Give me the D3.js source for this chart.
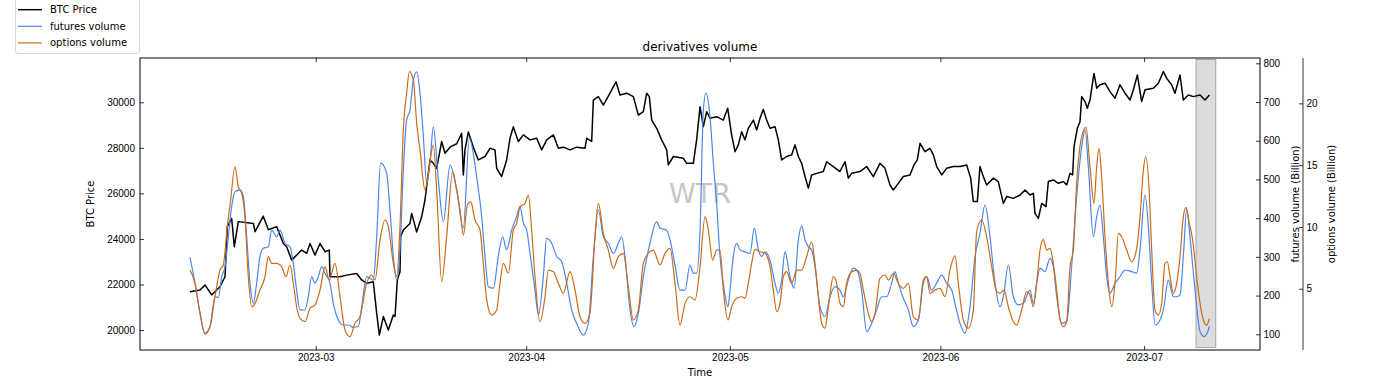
<!DOCTYPE html>
<html>
<head>
<meta charset="utf-8">
<script src="https://cdn.jsdelivr.net/npm/d3@7"></script>
<style>
  body { margin: 0; background: #fff; }
  svg { font-family: "DejaVu Sans", sans-serif; }
  .tick text { font-size: 10px; fill: #000; }
  .tick line, .domain { stroke: #000; stroke-width: 0.8; }
</style>
</head>
<body>
<script>
// days are counted from 2023-02-01 (UTC)
var btcDay = [9.48, 10.96, 11.69, 12.67, 13.9, 14.64, 14.98, 15.62, 16.01, 16.6, 18.81, 19.06, 20.28, 21.02, 22.25,
  23.23, 23.72, 24.46, 25.93, 26.67, 27.16, 27.89, 28.63, 29.37, 30.0, 30.1, 31.58, 32.56, 34.03, 34.77, 35.5,
  36.48, 36.98, 37.37, 37.96, 38.69, 39.43, 39.68, 40.02, 40.41, 40.51, 40.9, 41.88, 42.13, 42.87, 43.6, 44.09,
  44.83, 45.32, 45.81, 46.55, 47.04, 47.78, 48.76, 49.49, 49.74, 49.98, 50.48, 51.21, 51.95, 52.93, 53.67, 54.4,
  54.65, 55.38, 56.12, 56.61, 57.1, 57.84, 58.58, 59.56, 60.54, 61.28, 62.01, 63.0, 63.73, 64.47, 65.45, 66.43,
  67.66, 67.9, 68.64, 68.89, 69.62, 70.36, 71.34, 72.22, 72.81, 73.79, 74.78, 75.51, 76.25, 76.74, 77.13, 77.48,
  78.21, 78.95, 79.69, 79.93, 80.67, 82.14, 82.63, 83.61, 84.1, 84.6, 85.09, 85.58, 86.07, 87.05, 88.03, 88.67,
  89.26, 89.75, 90.24, 90.73, 91.22, 91.71, 92.45, 92.94, 93.43, 93.92, 94.41, 94.9, 95.64, 96.13, 96.62, 97.36,
  98.09, 98.59, 99.08, 99.57, 100.06, 100.55, 101.04, 101.78, 102.76, 103.25, 104.23, 105.21, 105.95, 106.44,
  106.93, 108.16, 109.14, 110.12, 111.1, 111.84, 112.58, 113.07, 113.8, 114.54, 115.52, 116.11, 116.6, 117.0,
  117.73, 118.47, 118.96, 119.45, 120.19, 120.92, 121.9, 122.89, 123.87, 124.46, 124.85, 125.44, 125.83, 126.32,
  126.81, 127.8, 128.53, 129.27, 129.76, 130.74, 131.73, 132.46, 133.2, 133.69, 133.93, 134.43, 134.92, 135.55,
  135.9, 136.63, 137.37, 138.11, 138.6, 139.09, 139.48, 139.68, 140.17, 140.56, 140.81, 141.3, 141.64, 142.03,
  142.62, 143.02, 143.51, 144.24, 144.98, 145.72, 146.45, 147.19, 147.93, 148.42, 149.01, 149.64, 150.14, 151.36,
  152.1, 152.84, 153.33, 154.06, 154.55, 155.29, 155.78, 156.52, 157.25, 158.24, 158.97, 159.61];
var btcPrice = [21680, 21760, 21980, 21540, 21900, 22340, 24540, 24900, 23660, 24760, 24680, 24320, 25000, 24400, 24540,
  23800, 23660, 23070, 23510, 23370, 23800, 23290, 23800, 23440, 23510, 22340, 22340, 22410, 22480, 22200, 22050,
  22120, 20730, 19780, 20590, 20000, 20660, 20590, 22200, 22560, 24100, 24390, 24680, 25120, 24300, 24970, 25710,
  27470, 27320, 27100, 28280, 27760, 28030, 28180, 28640, 26810, 27910, 28700, 28030, 27470, 27620, 27980, 27910,
  27100, 26740, 27470, 28420, 28930, 28280, 28570, 28350, 28420, 27910, 28350, 28570, 27980, 28030, 27910, 28030,
  27980, 28420, 28280, 30100, 30250, 29880, 30400, 30900, 30320, 30400, 30250, 29440, 29590, 30400, 30250, 29220,
  28860, 28350, 27910, 27250, 27620, 27540, 27320, 27320, 28350, 29810, 28930, 29590, 29300, 29370, 29220, 29740,
  28560, 27830, 28130, 28710, 28350, 28860, 29220, 28780, 29300, 29690, 29220, 28860, 28930, 28350, 27470, 27620,
  27690, 28130, 27620, 27320, 26740, 26230, 26810, 26880, 26960, 27390, 27180, 26960, 27390, 26670,
  26880, 26960, 27180, 26740, 27320, 27100, 26370, 26150, 26440, 26740, 26810, 27250, 27470, 28200,
  27830, 27980, 27690, 27180, 26810, 27100, 27180, 27180, 27250, 26670, 25640, 25640, 27180, 26740,
  26370, 26670, 26520, 25560, 25860, 25780, 25930, 26150, 25930, 26000, 25120, 24900, 25560, 25420,
  26520, 26590, 26440, 26520, 26370, 26880, 26810, 28060, 28860, 29150, 30250, 30030, 29740, 30100,
  31270, 30620, 30770, 30840, 30470, 30180, 30770, 30400, 30100, 30550, 31200, 30030, 30550, 30620,
  30840, 31350, 31050, 30770, 30400, 31200, 30100, 30320, 30250, 30320, 30100, 30320];

var futDay = [9.48, 10.22, 10.96, 11.69, 12.43, 13.17, 13.66, 14.15, 14.64, 15.13, 15.62, 16.11, 16.85, 17.34, 17.83,
  18.32, 18.81, 19.3, 19.79, 20.28, 21.02, 21.51, 22.25, 22.74, 23.48, 24.21, 24.7, 25.19, 25.68, 26.42, 26.91,
  27.4, 27.89, 28.38, 28.87, 29.37, 30.1, 30.59, 31.33, 32.07, 32.8, 33.54, 34.28, 34.77, 35.5, 35.99, 36.48,
  36.98, 37.56, 38.45, 38.94, 39.43, 39.92, 40.41, 40.9, 41.39, 41.88, 42.38, 42.87, 43.36, 43.85, 44.34, 44.83,
  45.32, 46.06, 46.79, 47.78, 48.76, 49.74, 50.62, 51.7, 52.44, 52.93, 53.42, 54.16, 54.89, 55.53, 56.12, 56.86,
  57.59, 58.08, 58.58, 59.07, 59.56, 60.29, 60.79, 61.52, 62.01, 62.75, 63.49, 64.22, 64.96, 65.69, 66.43, 67.41,
  68.15, 68.89, 69.62, 70.36, 71.09, 71.83, 72.57, 73.06, 73.55, 74.29, 74.87, 75.51, 76.25, 77.23, 78.21, 78.7,
  79.69, 80.18, 80.91, 81.65, 82.39, 83.12, 83.61, 84.1, 84.6, 85.09, 85.48, 86.07, 86.56, 87.05, 87.54, 88.03,
  88.72, 89.01, 89.5, 89.99, 90.49, 91.22, 91.96, 92.6, 93.19, 93.68, 94.17, 94.9, 95.64, 96.13, 96.62, 97.11,
  97.85, 98.44, 99.08, 99.57, 100.06, 100.55, 101.04, 101.53, 102.27, 103.0, 103.74, 104.48, 105.21, 105.7,
  106.44, 107.18, 107.91, 108.4, 109.14, 109.88, 110.61, 111.35, 112.09, 112.82, 113.31, 113.8, 114.54, 115.28,
  116.01, 116.75, 117.49, 117.98, 118.71, 119.45, 120.19, 120.92, 121.66, 122.15, 122.89, 123.62, 124.36, 125.1,
  125.83, 126.57, 127.3, 128.04, 128.78, 129.27, 130.01, 130.74, 131.48, 132.22, 133.2, 133.69, 134.18, 134.67,
  135.41, 136.14, 136.63, 137.13, 137.86, 138.6, 139.33, 140.07, 140.81, 141.3, 141.79, 142.53, 143.02, 143.51,
  144.0, 144.49, 144.98, 145.72, 146.45, 147.19, 148.17, 148.91, 149.4, 150.14, 150.63, 151.12, 151.61, 152.34,
  152.84, 153.57, 154.31, 154.8, 155.29, 155.78, 156.27, 156.76, 157.5, 158.24, 158.82, 159.46, 159.61];
var futVol = [299, 232, 154, 103, 120, 197, 195, 249, 275, 352, 430, 468, 473, 456, 352,
  232, 180, 232, 301, 322, 326, 369, 352, 369, 335, 326, 283, 214, 163, 163, 197,
  249, 232, 249, 275, 257, 232, 180, 137, 124, 124, 118, 120, 171, 249, 245, 240,
  352, 543, 516, 421, 301, 240, 317, 524, 654, 679, 757, 778, 723, 611, 490, 545,
  636, 499, 391, 537, 473, 374, 606, 507, 404, 301, 223, 219, 301, 352, 318, 369,
  404, 430, 387, 369, 309, 214, 150, 249, 348, 335, 301, 288, 232, 163, 128, 98,
  128, 301, 421, 352, 335, 309, 335, 352, 301, 163, 120, 154, 249, 335, 391, 374,
  369, 344, 279, 214, 214, 279, 258, 258, 369, 679, 723, 662, 542, 438, 301, 230,
  171, 214, 301, 335, 318, 313, 309, 374, 318, 301, 313, 292, 232, 206, 240, 313,
  249, 219, 344, 380, 344, 326, 318, 275, 171, 146, 197, 223, 214, 197,
  240, 271, 258, 214, 107, 128, 163, 197, 197, 232, 262, 232, 193, 163,
  120, 137, 232, 249, 214, 232, 253, 232, 214, 180, 128, 103, 171, 301,
  361, 434, 352, 232, 171, 197, 279, 197, 176, 180, 214, 180, 232, 271,
  262, 296, 275, 197, 128, 133, 275, 456, 585, 628, 533, 352, 404, 434,
  352, 249, 206, 232, 249, 266, 262, 258, 318, 460, 378, 232, 124, 137,
  163, 240, 197, 197, 202, 301, 423, 352, 214, 107, 94, 111, 121];

var optDay = [9.48, 10.22, 10.96, 11.69, 12.43, 13.17, 13.9, 14.39, 14.98, 15.47, 16.11, 16.6, 17.09, 17.58, 18.07,
  18.57, 19.06, 19.79, 20.53, 21.02, 21.51, 22.25, 22.98, 23.62, 24.21, 24.7, 25.19, 25.68, 26.42, 27.16, 27.89,
  28.63, 29.37, 30.0, 30.84, 31.58, 32.31, 33.05, 33.78, 34.52, 35.5, 36.24, 36.73, 37.47, 38.2, 38.69, 39.43,
  39.92, 40.41, 40.9, 41.39, 41.79, 42.38, 42.87, 43.36, 44.09, 44.58, 45.32, 45.81, 46.55, 47.28, 48.17, 48.76,
  49.25, 49.74, 50.33, 50.82, 51.46, 52.19, 52.68, 53.18, 53.91, 54.65, 55.14, 55.63, 56.37, 57.1, 57.59, 58.08,
  58.82, 59.31, 59.8, 60.29, 61.03, 61.77, 62.26, 63.0, 63.73, 64.47, 65.45, 66.19, 66.92, 67.66, 68.39, 69.13,
  69.62, 70.36, 71.09, 71.83, 72.57, 73.3, 74.04, 74.78, 75.51, 76.25, 76.98, 77.72, 78.7, 79.44, 80.18, 80.91,
  81.65, 82.39, 83.12, 83.86, 84.6, 85.33, 85.82, 86.46, 87.05, 87.54, 88.03, 88.72, 89.26, 89.99, 90.73, 91.22,
  91.71, 92.2, 92.69, 93.43, 94.17, 94.9, 95.39, 95.89, 96.38, 96.87, 97.36, 98.09, 98.83, 99.57, 100.3, 101.04,
  101.53, 102.02, 102.51, 103.0, 103.5, 104.23, 104.72, 105.21, 105.7, 106.19, 106.93, 107.67, 108.16, 108.65,
  109.39, 109.88, 110.37, 111.1, 111.84, 112.33, 113.07, 113.8, 114.54, 115.28, 116.01, 116.75, 117.49, 117.98,
  118.47, 119.2, 119.94, 120.68, 121.41, 122.15, 122.64, 123.38, 124.11, 124.85, 125.34, 126.08, 126.81, 127.55,
  128.29, 128.78, 129.37, 130.01, 130.74, 131.23, 131.97, 132.71, 133.2, 133.69, 134.18, 134.67, 135.16, 135.65,
  136.14, 136.63, 137.13, 137.62, 138.11, 138.6, 139.09, 139.58, 140.07, 140.81, 141.45, 142.03, 142.62, 143.02,
  143.36, 143.75, 144.24, 144.74, 145.23, 145.72, 146.21, 146.7, 147.44, 148.17, 148.91, 149.4, 149.89, 150.23,
  150.72, 151.12, 151.61, 152.1, 152.59, 153.08, 153.42, 153.82, 154.31, 154.8, 155.29, 155.78, 156.17, 156.66,
  157.15, 157.74, 158.24, 158.73, 159.22, 159.61];
var optVol = [6.51, 5.44, 3.01, 1.31, 1.93, 4.35, 6.51, 6.92, 10.02, 12.18, 14.87, 13.25, 12.72, 10.83, 5.97,
  3.54, 3.81, 4.89, 5.97, 7.59, 7.05, 7.05, 6.78, 5.97, 6.92, 5.44, 3.54, 2.6, 2.33, 3.41, 3.68,
  4.89, 6.78, 5.7, 7.05, 4.35, 1.66, 1.12, 2.2, 2.74, 5.44, 6.11, 5.7, 8.94, 10.56, 10.02, 7.05,
  5.97, 10.02, 17.84, 20.81, 22.56, 21.88, 18.38, 16.22, 12.99, 14.33, 16.63, 12.99, 5.57, 9.21, 14.47, 12.99,
  11.37, 9.34, 11.77, 12.04, 10.56, 9.75, 7.05, 4.09, 2.87, 3.28, 5.44, 7.05, 6.25, 9.75, 10.29, 11.63,
  11.91, 12.58, 9.75, 5.97, 2.33, 4.35, 6.51, 6.38, 5.44, 4.63, 6.38, 4.89, 2.73, 2.2, 3.01, 9.21,
  11.91, 9.48, 8.13, 6.65, 7.59, 7.86, 5.16, 2.47, 3.28, 7.05, 7.86, 8.13, 6.92, 7.86, 8.27, 5.44,
  2.06, 3.82, 4.35, 4.09, 6.78, 10.83, 9.75, 7.32, 8.13, 8.13, 4.89, 2.47, 3.54, 4.22, 4.35, 4.22,
  5.44, 7.05, 8.19, 7.99, 7.86, 6.78, 4.89, 3.14, 3.82, 5.97, 6.38, 5.44, 6.51, 6.51, 7.59, 8.8,
  7.05, 4.35, 2.2, 1.8, 3.54, 5.97, 5.44, 3.82, 3.54, 5.44, 6.38, 6.51, 6.25, 4.89,
  3.01, 2.33, 3.01, 5.84, 6.11, 5.7, 6.25, 5.44, 5.03, 5.44, 2.74, 2.47, 5.7, 5.97,
  4.63, 4.89, 5.03, 4.35, 6.51, 7.65, 5.44, 2.47, 1.8, 3.28, 9.61, 10.56, 9.21, 6.78,
  4.76, 4.63, 4.89, 3.54, 2.33, 2.06, 3.28, 4.76, 4.49, 3.54, 5.44, 8.13, 9.0, 8.13,
  8.27, 7.05, 4.89, 2.47, 1.93, 2.33, 6.78, 8.13, 13.53, 17.3, 18.06, 14.87, 11.91, 14.87,
  16.36, 14.06, 9.21, 5.44, 3.54, 5.44, 9.48, 9.21, 8.13, 7.18, 8.27, 10.83, 14.6, 15.68,
  13.25, 8.13, 3.28, 2.87, 3.82, 7.05, 7.18, 5.97, 4.63, 5.44, 7.59, 10.83, 11.59, 10.29,
  8.94, 5.97, 3.82, 2.47, 2.06, 2.57];

var btcTicks = [20000, 22000, 24000, 26000, 28000, 30000];
var futTicks = [100, 200, 300, 400, 500, 600, 700, 800];
var optTicks = [5, 10, 15, 20];
var spanDays = [157.65, 160.55];

var base = Date.UTC(2023, 1, 1);
function toDate(d) { return new Date(base + d * 864e5); }

var W = 1400, H = 389;
var plotL = 140, plotR = 1260, plotT = 58, plotB = 350;

var svg = d3.select("body").append("svg")
	.attr("width", W)
	.attr("height", H);

var x = d3.scaleUtc().domain([toDate(2.12), toDate(167.07)]).range([plotL, plotR]);
var yBtc = d3.scaleLinear().domain([19122, 31946]).range([plotB, plotT]);
var yFut = d3.scaleLinear().domain([59.4, 813.7]).range([plotB, plotT]);
var yOpt = d3.scaleLinear().domain([0.04, 23.67]).range([plotB, plotT]);

// shaded window at the end
svg.append("rect")
	.attr("x", x(toDate(spanDays[0])))
	.attr("y", plotT + 1.5)
	.attr("width", x(toDate(spanDays[1])) - x(toDate(spanDays[0])))
	.attr("height", plotB - plotT - 4)
	.attr("fill", "#dcdcdc")
	.attr("stroke", "#a8a8a8")
	.attr("stroke-width", 1);

// watermark
svg.append("text")
	.attr("x", 700)
	.attr("y", 202.5)
	.attr("text-anchor", "middle")
	.style("font-size", "27px")
	.style("fill", "#c6c6c6")
	.text("WTR");

var btcLine = d3.line()
	.x(function(d, i) { return x(toDate(btcDay[i])); })
	.y(function(d) { return yBtc(d); });

svg.append("path")
	.attr("d", btcLine(btcPrice))
	.attr("fill", "none")
	.attr("stroke", "#000")
	.attr("stroke-width", 1.5)
	.attr("stroke-linejoin", "round");

var futLine = d3.line()
	.curve(d3.curveMonotoneX)
	.x(function(d, i) { return x(toDate(futDay[i])); })
	.y(function(d) { return yFut(d); });

svg.append("path")
	.attr("d", futLine(futVol))
	.attr("fill", "none")
	.attr("stroke", "#4a86ec")
	.attr("stroke-width", 1.2);

var optLine = d3.line()
	.curve(d3.curveMonotoneX)
	.x(function(d, i) { return x(toDate(optDay[i])); })
	.y(function(d) { return yOpt(d); });

svg.append("path")
	.attr("d", optLine(optVol))
	.attr("fill", "none")
	.attr("stroke", "#cc6a18")
	.attr("stroke-width", 1.2);

// frame
svg.append("rect")
	.attr("x", plotL).attr("y", plotT)
	.attr("width", plotR - plotL).attr("height", plotB - plotT)
	.attr("fill", "none")
	.attr("stroke", "#000")
	.attr("stroke-width", 1);

// axes, ticks pointing inward
var fmt = d3.format("d");

svg.append("g")
	.attr("transform", "translate(" + plotL + ",0)")
	.call(d3.axisLeft(yBtc).tickValues(btcTicks).tickFormat(fmt).tickSize(-4).tickPadding(5))
	.call(function(g) { g.select(".domain").remove(); });

svg.append("g")
	.attr("transform", "translate(" + plotR + ",0)")
	.call(d3.axisRight(yFut).tickValues(futTicks).tickFormat(fmt).tickSize(-4).tickPadding(3.5))
	.call(function(g) { g.select(".domain").remove(); });

var optAxis = svg.append("g")
	.attr("transform", "translate(1303,0)")
	.call(d3.axisRight(yOpt).tickValues(optTicks).tickFormat(fmt).tickSize(-4).tickPadding(3.5));
optAxis.select(".domain").attr("d", "M0," + plotT + "V" + plotB);

svg.append("g")
	.attr("transform", "translate(0," + plotB + ")")
	.call(d3.axisBottom(x).ticks(d3.utcMonth.every(1)).tickFormat(d3.utcFormat("%Y-%m")).tickSize(-4).tickPadding(4))
	.call(function(g) { g.select(".domain").remove(); });

svg.append("g")
	.attr("transform", "translate(0," + plotT + ")")
	.call(d3.axisTop(x).ticks(d3.utcMonth.every(1)).tickFormat("").tickSize(-4))
	.call(function(g) { g.select(".domain").remove(); });

// labels
svg.append("text")
	.attr("x", 700).attr("y", 51)
	.attr("text-anchor", "middle")
	.style("font-size", "12px")
	.text("derivatives volume");

svg.append("text")
	.attr("x", 700).attr("y", 376)
	.attr("text-anchor", "middle")
	.style("font-size", "10px")
	.text("Time");

svg.append("text")
	.attr("transform", "translate(94,204) rotate(-90)")
	.attr("text-anchor", "middle")
	.style("font-size", "10px")
	.text("BTC Price");

svg.append("text")
	.attr("transform", "translate(1298.5,204) rotate(-90)")
	.attr("text-anchor", "middle")
	.style("font-size", "10px")
	.text("futures volume (Billion)");

svg.append("text")
	.attr("transform", "translate(1335,204) rotate(-90)")
	.attr("text-anchor", "middle")
	.style("font-size", "10px")
	.text("options volume (Billion)");

// legend
var legendItems = ["BTC Price", "futures volume", "options volume"];
var legendColors = ["#000", "#4a86ec", "#cc6a18"];

var lg = svg.append("g");
lg.append("rect")
	.attr("x", 15.5).attr("y", -3)
	.attr("width", 124).attr("height", 56.5)
	.attr("rx", 2.5)
	.attr("fill", "#fff")
	.attr("stroke", "#d6d6d6")
	.attr("stroke-width", 1);

var row = lg.selectAll(".row")
	.data(legendItems)
	.enter().append("g")
	.attr("transform", function(d, i) { return "translate(0," + (9.7 + i * 16.6) + ")"; });

row.append("line")
	.attr("x1", 18).attr("x2", 42)
	.attr("stroke", function(d, i) { return legendColors[i]; })
	.attr("stroke-width", function(d, i) { return i === 0 ? 1.5 : 1.2; });

row.append("text")
	.attr("x", 50).attr("dy", "0.35em")
	.style("font-size", "10px")
	.text(function(d) { return d; });
</script>
</body>
</html>
